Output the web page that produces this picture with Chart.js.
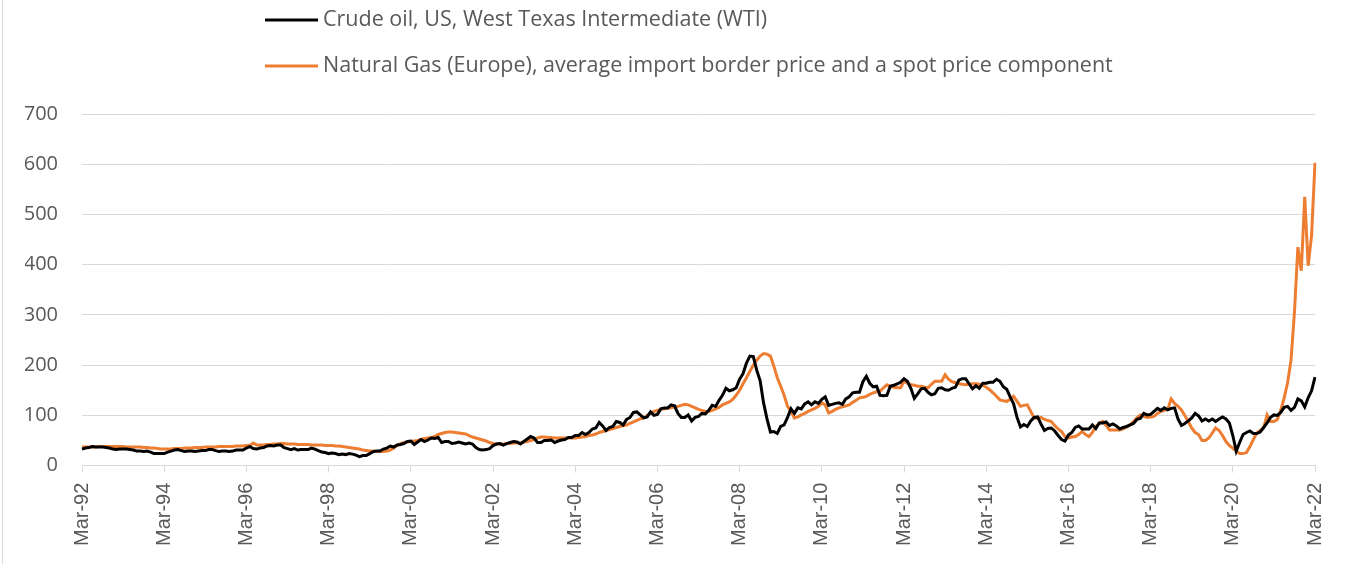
<!DOCTYPE html>
<html>
<head>
<meta charset="utf-8">
<script src="https://cdn.jsdelivr.net/npm/chart.js@4.4.0/dist/chart.umd.min.js"></script>
<style>
  body { margin: 0; background: #fff; }
  #wrap { position: relative; width: 1345px; height: 564px; }
  #frame { position: absolute; left: 2px; top: 0; width: 1px; height: 564px; background: #d9d9d9; }
</style>
</head>
<body>
<div id="wrap">
  <div id="frame"></div>
  <canvas id="chart"></canvas>
</div>
<script>
// month labels Mar-92 .. Mar-22
var monthNames = ['Jan','Feb','Mar','Apr','May','Jun','Jul','Aug','Sep','Oct','Nov','Dec'];
var labels = [];
for (var i = 0; i < 361; i++) {
  var m = (2 + i) % 12;
  var y = 1992 + Math.floor((2 + i) / 12);
  labels.push(monthNames[m] + '-' + String(y % 100).padStart(2, '0'));
}

var seriesNames = [
  'Crude oil, US, West Texas Intermediate (WTI)',
  'Natural Gas (Europe), average import border price and a spot price component'
];

// one row per year (1992 starts in March, 2022 ends in March)
var crudeOil = [
  33, 35, 36, 38, 37, 37, 37, 36, 35, 33,
  32, 33, 33, 33, 32, 31, 29, 29, 28, 29, 27, 24,
  24, 24, 24, 27, 29, 31, 32, 30, 28, 29, 29, 28,
  29, 30, 30, 32, 32, 30, 28, 29, 29, 28, 29, 31,
  31, 31, 35, 38, 34, 33, 35, 36, 39, 40, 39, 41,
  41, 36, 34, 32, 34, 31, 32, 32, 32, 35, 33, 30,
  27, 26, 24, 25, 24, 22, 23, 22, 24, 23, 21, 18,
  20, 20, 24, 28, 29, 29, 33, 35, 39, 37, 41, 42,
  44, 48, 49, 42, 47, 52, 48, 51, 55, 54, 56, 46,
  48, 48, 44, 45, 47, 45, 43, 45, 43, 36, 32, 31,
  32, 34, 40, 43, 44, 41, 44, 46, 48, 47, 43, 48,
  53, 58, 55, 46, 46, 50, 50, 51, 46, 49, 51, 52,
  56, 56, 60, 60, 66, 62, 66, 73, 75, 86, 79, 70,
  76, 78, 88, 86, 81, 92, 96, 106, 107, 101, 95, 97,
  107, 100, 102, 113, 115, 115, 121, 119, 104, 96, 96, 101,
  89, 96, 98, 104, 103, 110, 120, 118, 130, 140, 154, 149,
  151, 155, 172, 183, 204, 218, 217, 190, 169, 125, 93, 67,
  68, 64, 78, 81, 96, 113, 104, 115, 113, 123, 127, 121,
  127, 124, 132, 137, 120, 122, 124, 125, 122, 133, 137, 145,
  146, 146, 167, 178, 164, 157, 158, 140, 139, 140, 158, 160,
  163, 166, 173, 168, 154, 134, 143, 153, 154, 146, 141, 143,
  154, 155, 151, 150, 154, 156, 170, 173, 173, 163, 153, 159,
  154, 164, 164, 166, 166, 172, 168, 157, 152, 137, 123, 96,
  77, 82, 78, 89, 96, 97, 83, 70, 74, 75, 69, 60,
  52, 49, 61, 66, 76, 79, 73, 73, 73, 81, 74, 85,
  85, 87, 80, 83, 79, 73, 76, 78, 81, 84, 92, 94,
  104, 101, 102, 108, 114, 110, 115, 111, 114, 115, 93, 80,
  84, 89, 95, 104, 99, 89, 93, 89, 93, 88, 93, 97,
  93, 85, 60, 29, 46, 62, 66, 69, 64, 64, 67, 76,
  85, 96, 101, 100, 106, 116, 118, 110, 116, 133, 129, 117,
  135, 149, 176
];

var naturalGas = [
  37, 37, 37, 37, 37, 38, 38, 38, 38, 38,
  38, 38, 38, 37, 37, 37, 37, 37, 36, 36, 35, 35,
  34, 33, 33, 33, 33, 34, 34, 34, 35, 35, 35, 36,
  36, 36, 37, 37, 37, 37, 38, 38, 38, 38, 38, 39,
  39, 39, 40, 40, 45, 41, 41, 41, 42, 42, 43, 43,
  44, 44, 43, 43, 43, 42, 42, 42, 42, 41, 41, 41,
  41, 40, 40, 40, 39, 39, 38, 37, 36, 35, 34, 33,
  31, 30, 29, 29, 28, 28, 28, 29, 31, 35, 40, 44,
  46, 47, 48, 49, 50, 52, 54, 55, 56, 58, 62, 64,
  66, 67, 67, 66, 65, 64, 63, 60, 57, 55, 53, 51,
  49, 46, 44, 43, 43, 43, 44, 44, 45, 45, 45, 47,
  48, 50, 52, 55, 57, 57, 56, 56, 55, 55, 55, 55,
  55, 55, 55, 56, 57, 58, 60, 61, 63, 66, 68, 70,
  72, 74, 76, 78, 80, 81, 84, 87, 90, 93, 95, 100,
  104, 108, 110, 112, 113, 114, 115, 117, 118, 120, 122, 121,
  118, 115, 112, 110, 108, 108, 110, 113, 116, 121, 124, 127,
  132, 140, 150, 163, 175, 188, 200, 210, 218, 223, 222, 218,
  198, 175, 158, 140, 118, 108, 95, 97, 101, 104, 108, 111,
  114, 118, 125, 121, 105, 108, 112, 115, 117, 119, 121, 126,
  130, 135, 136, 138, 142, 145, 147, 148, 155, 161, 158, 156,
  155, 155, 168, 164, 161, 160, 158, 158, 156, 155, 162, 168,
  168, 168, 181, 172, 167, 165, 163, 162, 161, 162, 163, 163,
  162, 160, 156, 151, 145, 138, 131, 129, 128, 132, 138, 128,
  118, 120, 121, 108, 95, 94, 96, 92, 90, 88, 80, 73,
  68, 58, 55, 57, 58, 62, 68, 62, 58, 66, 78, 84,
  88, 80, 71, 71, 71, 71, 73, 77, 81, 88, 95, 101,
  98, 96, 97, 98, 104, 108, 110, 112, 133, 124, 118, 111,
  100, 88, 75, 66, 62, 50, 50, 55, 65, 75, 70, 60,
  48, 40, 35, 29, 24, 24, 26, 38, 52, 65, 70, 75,
  101, 88, 88, 92, 110, 135, 165, 210, 305, 435, 388, 535,
  398, 458, 603
];

var yTicks = [0, 100, 200, 300, 400, 500, 600, 700];

var stackedLegend = {
  id: 'stackedLegend',
  afterDraw: function(chart) {
    var ctx = chart.ctx;
    ctx.save();
    chart.data.datasets.forEach(function(ds, i) {
      var y = 20 + i * 46;
      ctx.strokeStyle = ds.borderColor;
      ctx.lineWidth = 3;
      ctx.beginPath();
      ctx.moveTo(265, y);
      ctx.lineTo(318, y);
      ctx.stroke();
      ctx.fillStyle = '#595959';
      ctx.font = '21.5px "Open Sans"';
      ctx.textBaseline = 'middle';
      ctx.fillText(ds.label, 323, y);
    });
    ctx.restore();
  }
};

new Chart(document.getElementById('chart'), {
  type: 'line',
  data: {
    labels: labels,
    datasets: [{
      label: seriesNames[0],
      data: crudeOil,
      borderColor: '#000000',
      borderWidth: 3,
      pointRadius: 0,
      tension: 0
    }, {
      label: seriesNames[1],
      data: naturalGas,
      borderColor: '#ed7d31',
      borderWidth: 3,
      pointRadius: 0,
      tension: 0
    }]
  },
  options: {
    responsive: true,
    maintainAspectRatio: false,
    animation: false,
    layout: { padding: { left: 25, right: 30, top: 114, bottom: 8 } },
    plugins: {
      legend: { display: false },
      tooltip: { enabled: false }
    },
    scales: {
      x: {
        offset: false,
        afterFit: function(scale) { scale.paddingLeft = 0; scale.paddingRight = 0; },
        grid: { display: true, drawOnChartArea: false, drawTicks: true, tickLength: 7, color: '#d9d9d9' },
        border: { display: true, color: '#d9d9d9' },
        ticks: {
          autoSkip: false,
          minRotation: 90,
          maxRotation: 90,
          padding: 10,
          color: '#595959',
          font: { family: '"Liberation Sans"', size: 20 },
          callback: function(val, idx) {
            return idx % 24 === 0 ? labels[idx] : null;
          }
        }
      },
      y: {
        min: yTicks[0],
        max: yTicks[yTicks.length - 1],
        afterFit: function(scale) { scale.width = 57; },
        grid: { color: '#d9d9d9', drawTicks: false },
        border: { display: false },
        ticks: {
          stepSize: 100,
          padding: 24,
          color: '#595959',
          font: { family: '"Open Sans"', size: 20 }
        }
      }
    }
  },
  plugins: [stackedLegend]
});
</script>
</body>
</html>
